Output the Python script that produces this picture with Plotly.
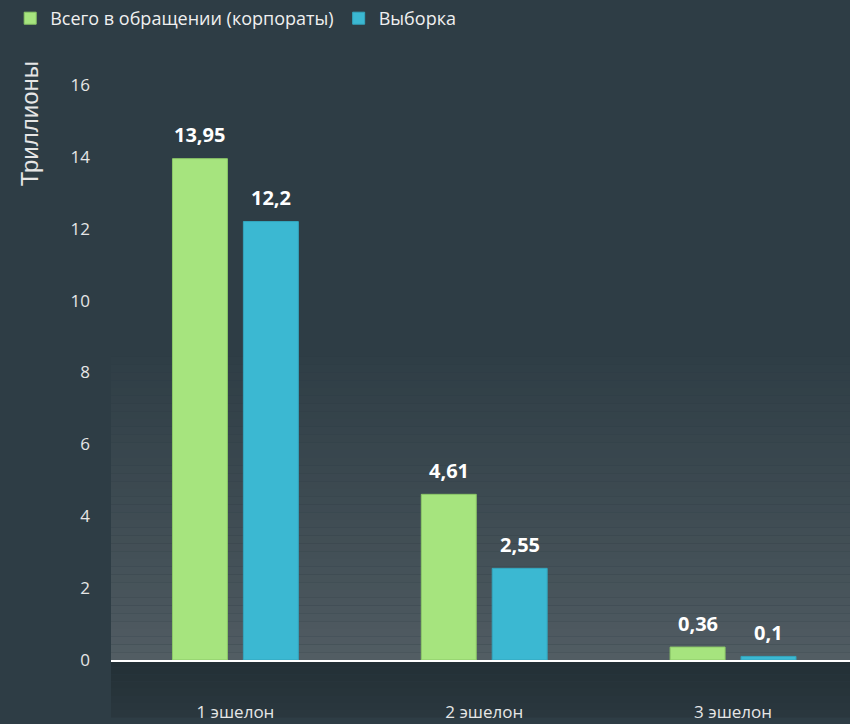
import plotly.graph_objects as go

categories = ["1 эшелон", "2 эшелон", "3 эшелон"]
total_values = [13.95, 4.61, 0.36]
sample_values = [12.2, 2.55, 0.1]
total_labels = ["13,95", "4,61", "0,36"]
sample_labels = ["12,2", "2,55", "0,1"]
series_names = ["Всего в обращении (корпораты)", "Выборка"]
y_ticks = [0, 2, 4, 6, 8, 10, 12, 14, 16]

BG = "#2E3D45"
GREEN = "#A6E47E"
CYAN = "#3BB8D2"
FONT = "Open Sans"


def mix(c1, c2, t):
    a = [int(c1[i:i + 2], 16) for i in (1, 3, 5)]
    b = [int(c2[i:i + 2], 16) for i in (1, 3, 5)]
    return "#" + "".join(f"{round(x + (y - x) * t):02x}" for x, y in zip(a, b))


fig = go.Figure()
fig.add_trace(go.Bar(
    x=categories, y=total_values, name=series_names[0],
    marker=dict(color=GREEN, line=dict(color="#8CC868", width=1)),
))
fig.add_trace(go.Bar(
    x=categories, y=sample_values, name=series_names[1],
    marker=dict(color=CYAN, line=dict(color="#34A6BE", width=1)),
))

# value labels above the bars
annotations = []
for cat, v, lab in zip(categories, total_values, total_labels):
    annotations.append(dict(x=cat, y=v, text=f"<b>{lab}</b>", xshift=-35.5, yshift=24,
                            showarrow=False, font=dict(size=20, color="white", family=FONT)))
for cat, v, lab in zip(categories, sample_values, sample_labels):
    annotations.append(dict(x=cat, y=v, text=f"<b>{lab}</b>", xshift=35.5, yshift=24,
                            showarrow=False, font=dict(size=20, color="white", family=FONT)))
annotations.append(dict(xref="paper", yref="paper", x=-0.11, y=0.897, text="Триллионы",
                        textangle=-90, showarrow=False, xanchor="center", yanchor="middle",
                        font=dict(size=24, color="#E6E6E6", family="Liberation Sans")))

# background gradient inside the plot area
shapes = []
n = 40
top = 0.52
for i in range(n):
    y0 = top * i / n
    y1 = top * (i + 1) / n
    t = ((i + 0.5) / n) ** 0.8
    shapes.append(dict(type="rect", xref="paper", yref="paper", x0=0, x1=1, y0=y0, y1=y1,
                       fillcolor=mix("#535E64", BG, t), line=dict(width=0), layer="below"))
# dark band under the axis line
for i in range(8):
    y0 = -0.012 * (i + 1)
    y1 = -0.012 * i
    shapes.append(dict(type="rect", xref="paper", yref="paper", x0=0, x1=1, y0=y0, y1=y1,
                       fillcolor=mix("#233036", "#2B383F", i / 8), line=dict(width=0), layer="below"))

fig.update_layout(
    width=850, height=724,
    paper_bgcolor=BG, plot_bgcolor="rgba(0,0,0,0)",
    font=dict(family=FONT, color="#E6E6E6", size=17),
    margin=dict(l=111, r=0, t=62, b=64),
    barmode="group", bargap=0.43, bargroupgap=0.225,
    showlegend=True,
    legend=dict(orientation="h", xref="container", yref="container", x=0.012, y=1.0,
                xanchor="left", yanchor="top", font=dict(size=18, color="#F0F0F0"),
                itemwidth=30, traceorder="normal"),
    annotations=annotations,
    shapes=shapes,
    xaxis=dict(range=[-0.5, 2.47], showgrid=False, zeroline=False, showline=True,
               linecolor="white", linewidth=2, ticks="", ticklabelstandoff=36,
               tickfont=dict(size=17, color="#E6E6E6")),
    yaxis=dict(range=[0, 16.64], tickvals=y_ticks, showgrid=False, zeroline=False,
               showline=False, ticks="", ticklabelstandoff=20,
               tickfont=dict(size=17, color="#E6E6E6")),
)

fig.write_html(
    "out.html",
    config={"displayModeBar": False},
    post_script="document.body.style.margin='0';document.body.style.overflow='hidden';",
)
